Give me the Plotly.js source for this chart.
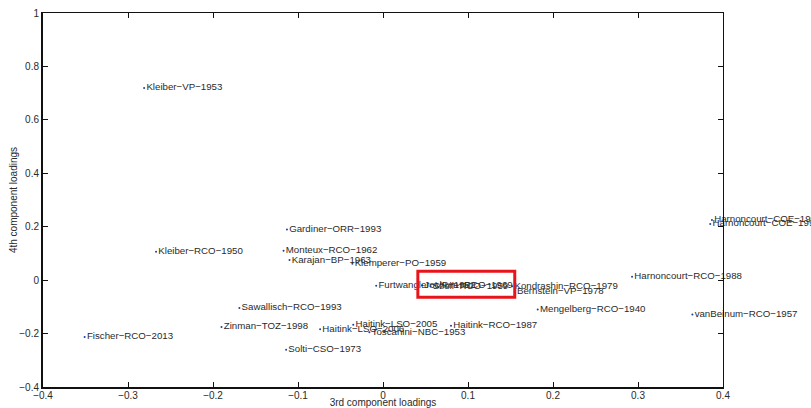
<!DOCTYPE html>
<html>
<head>
<meta charset="utf-8">
<script src="https://cdn.plot.ly/plotly-3.0.1.min.js"></script>
<style>html,body{margin:0;padding:0;background:#fff;}#chart{width:811px;height:408px;}</style>
</head>
<body>
<div id="chart"></div>
<script>
// Recording labels (conductor-orchestra-year)
const labels = [
  "Kleiber\u2212VP\u22121953",
  "Kleiber\u2212RCO\u22121950",
  "Fischer\u2212RCO\u22122013",
  "Sawallisch\u2212RCO\u22121993",
  "Zinman\u2212TOZ\u22121998",
  "Gardiner\u2212ORR\u22121993",
  "Monteux\u2212RCO\u22121962",
  "Karajan\u2212BP\u22121963",
  "Klemperer\u2212PO\u22121959",
  "Furtwangler\u2212VP\u22121952",
  "Jochum\u2212RCO\u22121969",
  "Szell\u2212RCO\u22121959",
  "Kondrashin\u2212RCO\u22121979",
  "Bernstein\u2212VP\u22121978",
  "Haitink\u2212LSO\u22122005",
  "Haitink\u2212LSO\u22122006",
  "Toscanini\u2212NBC\u22121953",
  "Solti\u2212CSO\u22121973",
  "Haitink\u2212RCO\u22121987",
  "Mengelberg\u2212RCO\u22121940",
  "Harnoncourt\u2212RCO\u22121988",
  "vanBeinum\u2212RCO\u22121957",
  "Harnoncourt\u2212COE\u22121990",
  "Harnoncourt\u2212COE\u22121991"
];
// 3rd component loadings
const comp3 = [
  -0.281, -0.267, -0.351, -0.169, -0.190, -0.113, -0.117, -0.110, -0.036, -0.008,
   0.046,  0.056,  0.152,  0.155, -0.035, -0.074, -0.016, -0.114,  0.080,  0.182,
   0.293,  0.364,  0.387,  0.385
];
// 4th component loadings
const comp4 = [
   0.719,  0.106, -0.213, -0.104, -0.175,  0.190,  0.110,  0.075,  0.061, -0.021,
  -0.019, -0.023, -0.023, -0.043, -0.167, -0.184, -0.195, -0.261, -0.171, -0.110,
   0.013, -0.129,  0.225,  0.210
];
const xTicks = [-0.4, -0.3, -0.2, -0.1, 0, 0.1, 0.2, 0.3, 0.4];
const yTicks = [-0.4, -0.2, 0, 0.2, 0.4, 0.6, 0.8, 1];
// highlighted region [x0, x1, y0, y1]
const highlightBox = [0.041, 0.155, -0.064, 0.033];

const fam = "Liberation Sans, Arial, Helvetica, sans-serif";
const txtColor = "#2a2a2a";

const trace = {
  x: comp3, y: comp4, text: labels,
  type: "scatter", mode: "markers+text",
  textposition: "middle right",
  textfont: {family: fam, size: 9.7, color: txtColor},
  marker: {size: 2, color: "#1f3f9f"},
  cliponaxis: false,
  hoverinfo: "none",
  showlegend: false
};
const ghost = {x: [0], y: [0], xaxis: "x2", yaxis: "y2", mode: "markers",
  marker: {opacity: 0}, showlegend: false, hoverinfo: "none"};

const tickFmt = v => (v < 0 ? "\u2212" : "") + String(Math.abs(v));

const layout = {
  width: 811, height: 408,
  margin: {l: 43, r: 88, t: 13, b: 21, pad: 0},
  paper_bgcolor: "#fff", plot_bgcolor: "#fff",
  font: {family: fam, size: 10, color: txtColor},
  showlegend: false,
  xaxis: {
    range: [-0.4, 0.4], tickvals: xTicks, ticktext: xTicks.map(tickFmt),
    showgrid: false, zeroline: false, showline: true, linewidth: 2, linecolor: "#111",
    ticks: "inside", ticklen: 5, tickwidth: 1, tickcolor: "#111",
    ticklabelstandoff: -2,
    tickfont: {family: fam, size: 10, color: txtColor},
    title: {text: "3rd component loadings", font: {family: fam, size: 10, color: txtColor}, standoff: 1},
    automargin: false
  },
  yaxis: {
    range: [-0.4, 1], tickvals: yTicks, ticktext: yTicks.map(tickFmt),
    showgrid: false, zeroline: false, showline: true, linewidth: 2, linecolor: "#111",
    ticks: "inside", ticklen: 5, tickwidth: 1, tickcolor: "#111",
    tickfont: {family: fam, size: 10, color: txtColor},
    title: {text: "4th component loadings", font: {family: fam, size: 10, color: txtColor}, standoff: 0},
    automargin: false
  },
  xaxis2: {
    overlaying: "x", side: "top", anchor: "y2", range: [-0.4, 0.4], tickvals: xTicks,
    showticklabels: false, showgrid: false, zeroline: false, showline: true, linewidth: 1.5,
    linecolor: "#111", ticks: "inside", ticklen: 5, tickcolor: "#111"
  },
  yaxis2: {
    overlaying: "y", side: "right", anchor: "x2", range: [-0.4, 1], tickvals: yTicks,
    showticklabels: false, showgrid: false, zeroline: false, showline: true, linewidth: 1,
    linecolor: "#111", ticks: "inside", ticklen: 5, tickcolor: "#111"
  },
  shapes: [{
    type: "rect", xref: "x", yref: "y",
    x0: highlightBox[0], x1: highlightBox[1], y0: highlightBox[2], y1: highlightBox[3],
    line: {color: "#e8141c", width: 3}, fillcolor: "rgba(0,0,0,0)", layer: "above"
  }]
};

Plotly.newPlot("chart", [ghost, trace], layout, {staticPlot: true, displayModeBar: false});
</script>
</body>
</html>
